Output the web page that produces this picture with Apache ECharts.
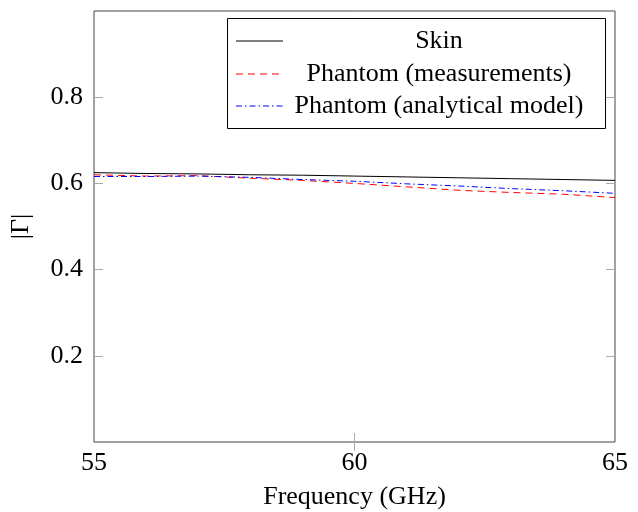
<!DOCTYPE html>
<html><head><meta charset="utf-8">
<script src="https://cdn.jsdelivr.net/npm/echarts@6/dist/echarts.min.js"></script>
<style>html,body{margin:0;padding:0;background:#fff}#c{width:638px;height:512px}</style>
</head><body><div id="c"></div>
<script>
const freq = [55,56,57,58,59,60,61,62,63,64,65];
const skin = [0.625,0.623,0.622,0.620,0.619,0.617,0.615,0.613,0.611,0.609,0.607];
const phantomMeas = [0.620,0.617,0.618,0.612,0.607,0.600,0.592,0.584,0.579,0.575,0.567];
const phantomModel = [0.616,0.616,0.617,0.614,0.609,0.605,0.599,0.594,0.588,0.583,0.577];
const seriesNames = ['Skin','Phantom (measurements)','Phantom (analytical model)'];
const yTicks = [0.2,0.4,0.6,0.8];
const xTicks = [55,60,65];
const xInnerTicks = [60];

const F = 'Liberation Serif, Times New Roman, serif';
const FS = 26;
const chart = echarts.init(document.getElementById('c'));
const pair = a => freq.map((f,i)=>[f,a[i]]);
const tickStyle = {color:'#aaa',width:1};
chart.setOption({
  animation:false,
  grid:{left:94,top:11,right:23,bottom:70,show:true,borderColor:'#444',borderWidth:1,containLabel:false,outerBoundsMode:'none'},
  xAxis:[
    {type:'value',min:55,max:65,interval:5,name:'Frequency (GHz)',nameLocation:'middle',nameGap:42,
     nameTextStyle:{fontFamily:F,fontSize:FS,color:'#000'},
     axisLine:{show:false},splitLine:{show:false},
     axisTick:{show:true,inside:true,length:9,lineStyle:tickStyle,customValues:xInnerTicks},
     axisLabel:{fontFamily:F,fontSize:FS,color:'#000',margin:8,customValues:xTicks}},
    {type:'value',position:'top',min:55,max:65,interval:5,axisLine:{show:false},
     axisTick:{show:true,inside:true,length:9,lineStyle:tickStyle,customValues:xInnerTicks},
     axisLabel:{show:false},splitLine:{show:false}}
  ],
  yAxis:[
    {type:'value',min:0,max:1,interval:0.2,name:'|Γ|',nameLocation:'middle',nameGap:60,nameRotate:90,
     nameTextStyle:{fontFamily:F,fontSize:FS,color:'#000'},
     axisLine:{show:false},splitLine:{show:false},
     axisTick:{show:true,inside:true,length:9,lineStyle:tickStyle,customValues:yTicks},
     axisLabel:{fontFamily:F,fontSize:FS,color:'#000',margin:11,customValues:yTicks,formatter:v=>v.toFixed(1)}},
    {type:'value',position:'right',min:0,max:1,interval:0.2,axisLine:{show:false},
     axisTick:{show:true,inside:true,length:9,lineStyle:tickStyle,customValues:yTicks},
     axisLabel:{show:false},splitLine:{show:false}}
  ],
  series:[
    {name:seriesNames[0],type:'line',data:pair(skin),symbol:'none',lineStyle:{color:'#000',width:1,type:'solid'}},
    {name:seriesNames[1],type:'line',data:pair(phantomMeas),symbol:'none',lineStyle:{color:'#ff0000',width:1,type:[7,5]}},
    {name:seriesNames[2],type:'line',data:pair(phantomModel),symbol:'none',lineStyle:{color:'#0000ff',width:1,type:[6,3,1.5,3]}}
  ],
  graphic:[
    {type:'rect',shape:{x:227.5,y:18.5,width:378,height:110},style:{fill:'#fff',stroke:'#000',lineWidth:1},z:100},
    {type:'line',shape:{x1:236,y1:41,x2:283,y2:41},style:{stroke:'#000',lineWidth:1},z:101},
    {type:'line',shape:{x1:236,y1:74,x2:283,y2:74},style:{stroke:'#ff0000',lineWidth:1,lineDash:[7,5]},z:101},
    {type:'line',shape:{x1:236,y1:106,x2:283,y2:106},style:{stroke:'#0000ff',lineWidth:1,lineDash:[6,3,1.5,3]},z:101},
    {type:'text',style:{x:439,y:41,text:seriesNames[0],font:FS+'px '+F,fill:'#000',textAlign:'center',textVerticalAlign:'middle'},z:101},
    {type:'text',style:{x:439,y:74,text:seriesNames[1],font:FS+'px '+F,fill:'#000',textAlign:'center',textVerticalAlign:'middle'},z:101},
    {type:'text',style:{x:439,y:106,text:seriesNames[2],font:FS+'px '+F,fill:'#000',textAlign:'center',textVerticalAlign:'middle'},z:101}
  ]
});
</script></body></html>
